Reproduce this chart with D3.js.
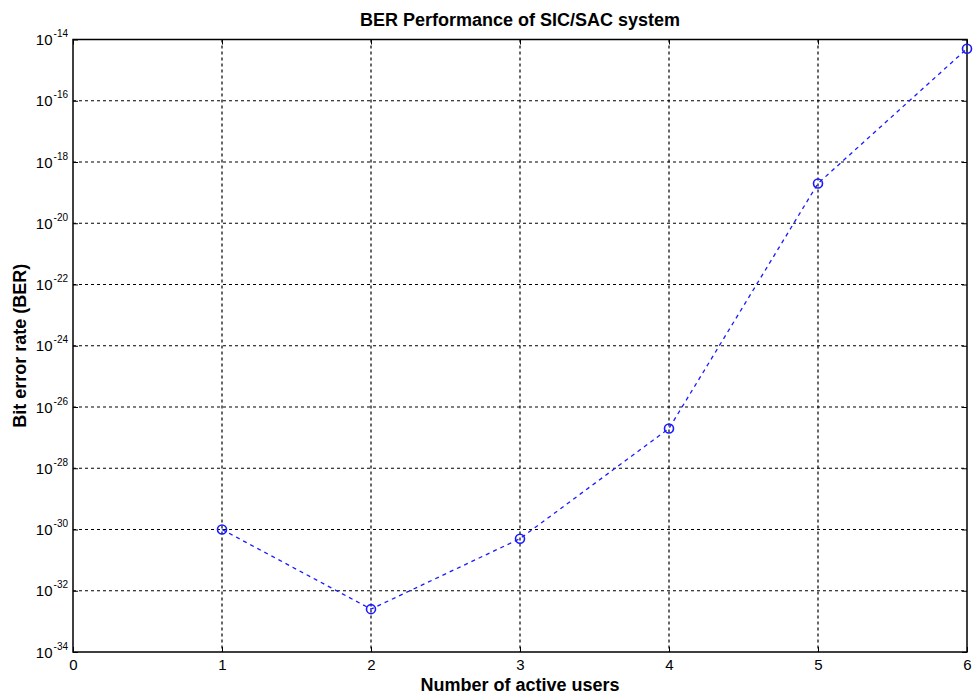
<!DOCTYPE html>
<html><head><meta charset="utf-8">
<script src="https://cdn.jsdelivr.net/npm/d3@7"></script>
<style>body{margin:0;background:#fff;} text{font-family:Arial,"Liberation Sans",sans-serif;}</style>
</head><body>
<svg id="c" width="973" height="695"></svg>
<script>
const users = [1, 2, 3, 4, 5, 6];
const berExp = [-30.0, -32.6, -30.3, -26.7, -18.7, -14.3];
const xTicks = [0, 1, 2, 3, 4, 5, 6];
const yTickExps = [-34, -32, -30, -28, -26, -24, -22, -20, -18, -16, -14];
const titleText = "BER Performance of SIC/SAC system";
const xLabel = "Number of active users";
const yLabel = "Bit error rate (BER)";

const svg = d3.select("#c");
const L = 73, R = 967, T = 39.5, B = 652;
const x = d3.scaleLinear().domain([0, 6]).range([L, R]);
const y = d3.scaleLog().domain([1e-34, 1e-14]).range([B, T]);
const ber = berExp.map(e => Math.pow(10, e));

// grid
const g = svg.append("g");
g.selectAll(".vg").data(xTicks.slice(1, -1)).join("line")
  .attr("x1", d => x(d)).attr("x2", d => x(d)).attr("y1", T).attr("y2", B)
  .attr("stroke", "#000").attr("stroke-width", 1.2).attr("stroke-dasharray", "3,3");
g.selectAll(".hg").data(yTickExps.slice(1, -1)).join("line")
  .attr("x1", L).attr("x2", R).attr("y1", d => y(Math.pow(10, d))).attr("y2", d => y(Math.pow(10, d)))
  .attr("stroke", "#000").attr("stroke-width", 1.2).attr("stroke-dasharray", "3,3");

// axes
const xAxis = d3.axisBottom(x).tickValues(xTicks).tickSize(-5).tickPadding(6).tickFormat(d3.format("d"));
const gx = svg.append("g").attr("transform", `translate(0,${B})`).call(xAxis);
gx.select(".domain").remove();
gx.selectAll("text").attr("font-size", 15).attr("fill", "#000").attr("dy", null).attr("y", 18);
gx.selectAll("line").attr("stroke", "#000");
svg.append("g").attr("transform", `translate(0,${T})`).call(d3.axisTop(x).tickValues(xTicks).tickSize(-5).tickFormat(""))
  .call(s => s.select(".domain").remove());

const yAxis = d3.axisLeft(y).tickValues(yTickExps.map(e => Math.pow(10, e))).tickSize(-5).tickFormat("");
const gy = svg.append("g").attr("transform", `translate(${L},0)`).call(yAxis);
gy.select(".domain").remove();
gy.selectAll(".tick").each(function(d, i) {
  const t = d3.select(this).append("text").attr("x", -5).attr("y", 5).attr("text-anchor", "end")
    .attr("fill", "#000");
  t.append("tspan").attr("font-size", 15).text("10");
  t.append("tspan").attr("dy", -8).attr("dx", 1).attr("font-size", 10).text(String(yTickExps[i]));
});
svg.append("g").attr("transform", `translate(${R},0)`).call(d3.axisRight(y).tickValues(yTickExps.map(e => Math.pow(10, e))).tickSize(-5).tickFormat(""))
  .call(s => s.select(".domain").remove());

// box
svg.append("rect").attr("x", L).attr("y", T).attr("width", R - L).attr("height", B - T)
  .attr("fill", "none").attr("stroke", "#000").attr("stroke-width", 1.5);

// line
const line = d3.line().x((d, i) => x(users[i])).y(d => y(d));
svg.append("path").datum(ber).attr("d", line).attr("fill", "none")
  .attr("stroke", "#1a1aff").attr("stroke-width", 1.3).attr("stroke-dasharray", "4,4");
svg.selectAll(".pt").data(ber).join("circle")
  .attr("cx", (d, i) => x(users[i])).attr("cy", d => y(d)).attr("r", 4.5)
  .attr("fill", "none").attr("stroke", "#1a1aff").attr("stroke-width", 1.6);

// texts
svg.append("text").attr("x", (L + R) / 2).attr("y", 26).attr("text-anchor", "middle")
  .attr("font-size", 18).attr("font-weight", "bold").text(titleText);
svg.append("text").attr("x", (L + R) / 2).attr("y", 691).attr("text-anchor", "middle")
  .attr("font-size", 18).attr("font-weight", "bold").text(xLabel);
svg.append("text").attr("transform", `translate(26,${(T + B) / 2}) rotate(-90)`).attr("text-anchor", "middle")
  .attr("font-size", 18).attr("font-weight", "bold").text(yLabel);
</script>
</body></html>
